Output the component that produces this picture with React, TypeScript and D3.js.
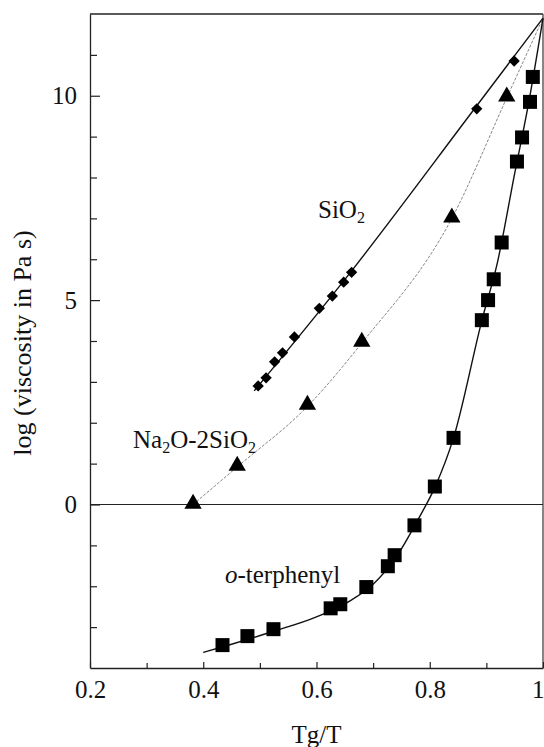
import * as d3 from "d3";
import { useEffect, useRef } from "react";

// SiO2 (diamonds)
const sio2Tg = [0.497, 0.511, 0.526, 0.54, 0.561, 0.605, 0.628, 0.648, 0.662, 0.883, 0.949];
const sio2Log = [2.9, 3.1, 3.49, 3.71, 4.1, 4.8, 5.1, 5.44, 5.68, 9.68, 10.85];
const sio2FitTg = [0.49, 0.66, 0.88, 1.0];
const sio2FitLog = [2.78, 5.68, 9.7, 11.9];

// Na2O-2SiO2 (triangles)
const naTg = [0.382, 0.46, 0.584, 0.68, 0.839, 0.936];
const naLog = [0.02, 0.95, 2.44, 3.98, 7.02, 9.98];
const naFitTg = [0.382, 0.46, 0.584, 0.68, 0.839, 0.936, 1.0];
const naFitLog = [0.0, 0.92, 2.4, 3.95, 7.0, 9.95, 11.9];

// o-terphenyl (squares)
const otpTg = [0.434, 0.478, 0.524, 0.625, 0.642, 0.688, 0.726, 0.738, 0.773, 0.809, 0.842, 0.892, 0.903, 0.913, 0.927, 0.954, 0.963, 0.977, 0.982];
const otpLog = [-3.44, -3.22, -3.05, -2.54, -2.44, -2.02, -1.51, -1.24, -0.51, 0.44, 1.63, 4.51, 5.0, 5.51, 6.41, 8.39, 8.98, 9.85, 10.46];
const otpFitTg = [0.4, 0.45, 0.52, 0.6, 0.66, 0.7, 0.74, 0.78, 0.81, 0.842, 0.892, 0.92, 0.95, 0.975, 1.0];
const otpFitLog = [-3.62, -3.42, -3.12, -2.75, -2.35, -1.95, -1.3, -0.35, 0.45, 1.63, 4.5, 5.95, 8.1, 9.85, 11.9];

const xTicks = [0.2, 0.4, 0.6, 0.8, 1.0];
const xMinor = [0.3, 0.5, 0.7, 0.9];
const yTicks = [0, 5, 10];
const yMinor = [-3, -2, -1, 1, 2, 3, 4, 6, 7, 8, 9, 11];

const App = () => {
    const ref = useRef<SVGSVGElement>(null);

    const width = 544;
    const height = 747;
    const marginTop = 14;
    const marginRight = 1;
    const marginBottom = 79;
    const marginLeft = 90;
    const font = "Liberation Serif";
    const fs = 25;

    useEffect(() => {
        const svg = d3.select(ref.current);
        svg.selectAll("*").remove();

        const x = d3.scaleLinear()
            .domain([0.2, 1.0])
            .range([marginLeft, width - marginRight]);

        const y = d3.scaleLinear()
            .domain([-4, 12])
            .range([height - marginBottom, marginTop]);

        // frame top / right
        svg.append("line")
            .attr("x1", x(0.2)).attr("x2", x(1.0))
            .attr("y1", y(12)).attr("y2", y(12))
            .attr("stroke", "#222").attr("stroke-width", 1.3);
        svg.append("line")
            .attr("x1", x(1.0)).attr("x2", x(1.0))
            .attr("y1", y(12)).attr("y2", y(-4))
            .attr("stroke", "#444").attr("stroke-width", 1.3);

        // zero line
        svg.append("line")
            .attr("x1", x(0.2)).attr("x2", x(1.0))
            .attr("y1", y(0)).attr("y2", y(0))
            .attr("stroke", "#222").attr("stroke-width", 1.2);

        // bottom axis
        svg.append("g")
            .attr("transform", `translate(0,${y(-4)})`)
            .call(d3.axisBottom(x).tickValues(xTicks)
                .tickSizeInner(-6).tickSizeOuter(0).tickPadding(12)
                .tickFormat(d => (+d === 1 ? "1" : (+d).toFixed(1))))
            .call(g => g.select(".domain").attr("stroke", "#222").attr("stroke-width", 1.3))
            .call(g => g.selectAll(".tick line").attr("stroke", "#222").attr("stroke-width", 1.2))
            .call(g => g.selectAll("text").style("font-family", font).attr("font-size", fs).attr("fill", "#111")
                .attr("text-anchor", d => (+d === 1 ? "end" : "middle")).attr("dx", d => (+d === 1 ? 1 : 0)));
        svg.append("g")
            .attr("transform", `translate(0,${y(-4)})`)
            .call(d3.axisBottom(x).tickValues(xMinor).tickSizeInner(-5).tickSizeOuter(0).tickFormat(() => ""))
            .call(g => g.select(".domain").remove())
            .call(g => g.selectAll(".tick line").attr("stroke", "#222").attr("stroke-width", 1.2));

        // left axis
        svg.append("g")
            .attr("transform", `translate(${x(0.2)},0)`)
            .call(d3.axisLeft(y).tickValues(yTicks)
                .tickSizeInner(-10).tickSizeOuter(0).tickPadding(13)
                .tickFormat(d3.format("d")))
            .call(g => g.select(".domain").attr("stroke", "#222").attr("stroke-width", 1.3))
            .call(g => g.selectAll(".tick line").attr("stroke", "#222").attr("stroke-width", 1.2))
            .call(g => g.selectAll("text").style("font-family", font).attr("font-size", fs).attr("fill", "#111"));
        svg.append("g")
            .attr("transform", `translate(${x(0.2)},0)`)
            .call(d3.axisLeft(y).tickValues(yMinor).tickSizeInner(-7).tickSizeOuter(0).tickFormat(() => ""))
            .call(g => g.select(".domain").remove())
            .call(g => g.selectAll(".tick line").attr("stroke", "#222").attr("stroke-width", 1.2));

        // axis titles
        svg.append("text")
            .attr("x", (x(0.2) + x(1.0)) / 2)
            .attr("y", 743)
            .attr("text-anchor", "middle")
            .style("font-family", font).attr("font-size", fs).attr("fill", "#111")
            .text("Tg/T");
        svg.append("text")
            .attr("transform", `translate(31,343) rotate(-90)`)
            .attr("text-anchor", "middle")
            .style("font-family", font).attr("font-size", 26).attr("fill", "#111")
            .text("log (viscosity in Pa s)");

        const fitLine = d3.line<number>()
            .curve(d3.curveMonotoneX);

        // fit curves
        svg.append("path")
            .attr("fill", "none").attr("stroke", "#111").attr("stroke-width", 1.4)
            .attr("d", fitLine.x((d, i) => x(sio2FitTg[i])).y(d => y(d))(sio2FitLog));
        svg.append("path")
            .attr("fill", "none").attr("stroke", "#777").attr("stroke-width", 0.9)
            .attr("stroke-dasharray", "3,1.5")
            .attr("d", fitLine.x((d, i) => x(naFitTg[i])).y(d => y(d))(naFitLog));
        svg.append("path")
            .attr("fill", "none").attr("stroke", "#111").attr("stroke-width", 1.4)
            .attr("d", fitLine.x((d, i) => x(otpFitTg[i])).y(d => y(d))(otpFitLog));

        // markers
        const diamond = d3.symbol().type(d3.symbolSquare).size(64);
        svg.append("g").selectAll("path")
            .data(sio2Log)
            .join("path")
            .attr("transform", (d, i) => `translate(${x(sio2Tg[i])},${y(d)}) rotate(45)`)
            .attr("d", diamond())
            .attr("fill", "#000");

        const tri = d3.symbol().type(d3.symbolTriangle).size(130);
        svg.append("g").selectAll("path")
            .data(naLog)
            .join("path")
            .attr("transform", (d, i) => `translate(${x(naTg[i])},${y(d)})`)
            .attr("d", tri())
            .attr("fill", "#000");

        const square = d3.symbol().type(d3.symbolSquare).size(196);
        svg.append("g").selectAll("path")
            .data(otpLog)
            .join("path")
            .attr("transform", (d, i) => `translate(${x(otpTg[i])},${y(d)})`)
            .attr("d", square())
            .attr("fill", "#000");

        // series labels
        const sio2Label = svg.append("text")
            .attr("x", 318).attr("y", 218)
            .style("font-family", font).attr("font-size", fs).attr("fill", "#111");
        sio2Label.append("tspan").text("SiO");
        sio2Label.append("tspan").attr("font-size", 16).attr("dy", 5).text("2");

        const naLabel = svg.append("text")
            .attr("x", 133).attr("y", 448)
            .style("font-family", font).attr("font-size", fs).attr("fill", "#111");
        naLabel.append("tspan").text("Na");
        naLabel.append("tspan").attr("font-size", 16).attr("dy", 5).text("2");
        naLabel.append("tspan").attr("dy", -5).text("O-2SiO");
        naLabel.append("tspan").attr("font-size", 16).attr("dy", 5).text("2");

        const otpLabel = svg.append("text")
            .attr("x", 225).attr("y", 583)
            .style("font-family", font).attr("font-size", fs).attr("fill", "#111");
        otpLabel.append("tspan").attr("font-style", "italic").text("o");
        otpLabel.append("tspan").text("-terphenyl");
    }, []);

    return (
        <div style={{ position: "absolute", left: 0, top: 0 }}>
            <svg width={width} height={height} ref={ref} style={{ display: "block", background: "#fff" }} />
        </div>
    );
};

export default App;
